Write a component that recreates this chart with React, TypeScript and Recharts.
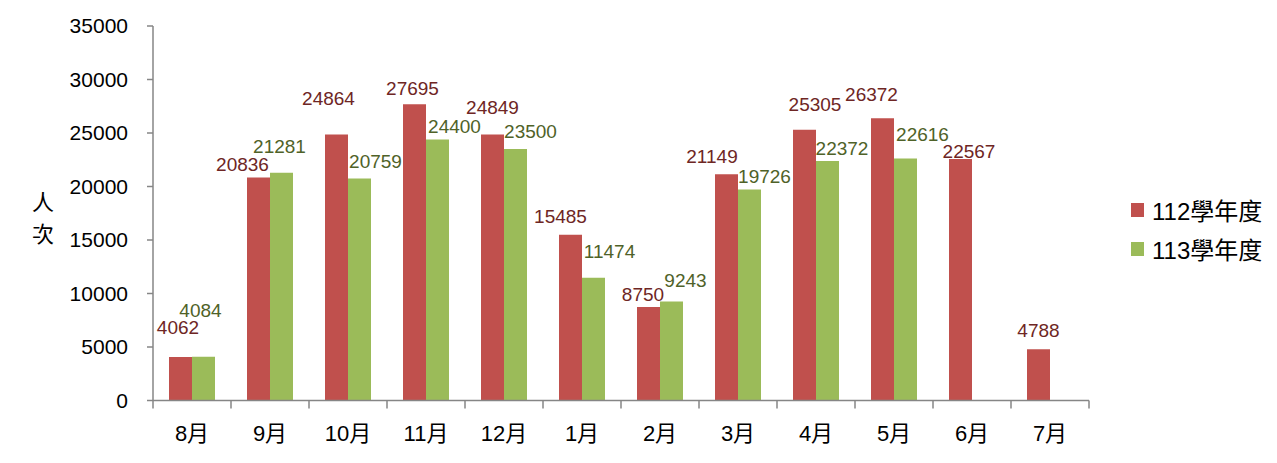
import React from "react";
import { BarChart, Bar, XAxis, YAxis, Legend, LabelList } from "recharts";

const categories = ["8月", "9月", "10月", "11月", "12月", "1月", "2月", "3月", "4月", "5月", "6月", "7月"];
const series112 = [4062, 20836, 24864, 27695, 24849, 15485, 8750, 21149, 25305, 26372, 22567, 4788];
const series113: (number | null)[] = [4084, 21281, 20759, 24400, 23500, 11474, 9243, 19726, 22372, 22616, null, null];
const yTicks = [0, 5000, 10000, 15000, 20000, 25000, 30000, 35000];
const seriesNames = ["112學年度", "113學年度"];

// label nudges (manually placed labels in original)
const red_dx = [-2.5, -16, -8, -2, 0, -10, -5.5, -14.5, 10.5, -11, 8.5, 0];
const red_raise = [30, 13, 36, 16, 27, 18, 12, 18, 25, 24, 8, 19];
const green_dx = [-3, -2, 16, 17, 15, 16, 14, 15, 14.5, 17, 0, 0];
const green_raise = [46, 26, 17, 13, 18, 26, 21, 13, 13, 24, 0, 0];

const data = categories.map((c, i) => ({ month: c, a: series112[i], b: series113[i] }));

const FONT = "'Liberation Sans', 'Noto Sans CJK TC', sans-serif";
const RED = "#C0504D";
const GREEN = "#9BBB59";
const RED_TXT = "#6E2624";
const GREEN_TXT = "#4F6228";
const AXIS = "#868686";

const W = 1261;
const H = 447;
const YW = 145;
const LEGW = 180;
const BAND = (W - YW - LEGW) / categories.length;

const makeLabel = (dxs: number[], raises: number[], color: string) => (props: any) => {
  const { x, y, width, value, index } = props;
  if (value === null || value === undefined) return null;
  return (
    <text
      x={Number(x) + Number(width) / 2 + dxs[index]}
      y={Number(y) - raises[index]}
      textAnchor="middle"
      dominantBaseline="central"
      fill={color}
      fontSize={19}
      fontFamily={FONT}
    >
      {value}
    </text>
  );
};

const XTick = (props: any) => {
  const { x, y, payload, index } = props;
  const last = index === categories.length - 1;
  return (
    <g>
      <line x1={x - BAND / 2} x2={x - BAND / 2} y1={y} y2={y + 8} stroke={AXIS} strokeWidth={1.5} />
      {last && <line x1={x + BAND / 2} x2={x + BAND / 2} y1={y} y2={y + 8} stroke={AXIS} strokeWidth={1.5} />}
      <text x={x} y={y + 33} textAnchor="middle" dominantBaseline="central" fill="#000" fontSize={22} fontFamily={FONT}>
        {payload.value}
      </text>
    </g>
  );
};

const YLabel = () => (
  <g>
    <text x={35} y={194} textAnchor="middle" dominantBaseline="central" fontSize={22} fontFamily={FONT} fill="#000">人</text>
    <text x={35} y={226} textAnchor="middle" dominantBaseline="central" fontSize={22} fontFamily={FONT} fill="#000">次</text>
  </g>
);

const LegendContent = () => (
  <div style={{ paddingLeft: 42, fontFamily: FONT }}>
    {[RED, GREEN].map((c, i) => (
      <div key={i} style={{ display: "flex", alignItems: "center", height: 39 }}>
        <span style={{ display: "inline-block", width: 13, height: 14, background: c, marginRight: 8 }} />
        <span style={{ fontSize: 24, color: "#000", whiteSpace: "nowrap" }}>{seriesNames[i]}</span>
      </div>
    ))}
  </div>
);

export default function App() {
  return (
    <BarChart
      width={W}
      height={H}
      data={data}
      margin={{ top: 18, right: 0, bottom: 14.5, left: 0 }}
      barCategoryGap={16}
      barGap={0}
    >
      <XAxis
        dataKey="month"
        height={40}
        axisLine={{ stroke: AXIS, strokeWidth: 1.5 }}
        tickLine={false}
        tickSize={0}
        tickMargin={0}
        tick={<XTick />}
        interval={0}
      />
      <YAxis
        width={YW}
        domain={[0, 35000]}
        ticks={yTicks}
        interval={0}
        axisLine={{ stroke: AXIS, strokeWidth: 1.5 }}
        tickLine={{ stroke: AXIS, strokeWidth: 1.5 }}
        tickSize={6}
        tickMargin={19}
        tick={{ fill: "#000", fontSize: 21, fontFamily: FONT }}
        label={<YLabel />}
      />
      <Legend
        layout="vertical"
        align="right"
        verticalAlign="middle"
        wrapperStyle={{ width: LEGW, top: 182 }}
        content={<LegendContent />}
      />
      <Bar dataKey="a" name={seriesNames[0]} fill={RED} isAnimationActive={false}>
        <LabelList dataKey="a" content={makeLabel(red_dx, red_raise, RED_TXT)} />
      </Bar>
      <Bar dataKey="b" name={seriesNames[1]} fill={GREEN} isAnimationActive={false}>
        <LabelList dataKey="b" content={makeLabel(green_dx, green_raise, GREEN_TXT)} />
      </Bar>
    </BarChart>
  );
}
